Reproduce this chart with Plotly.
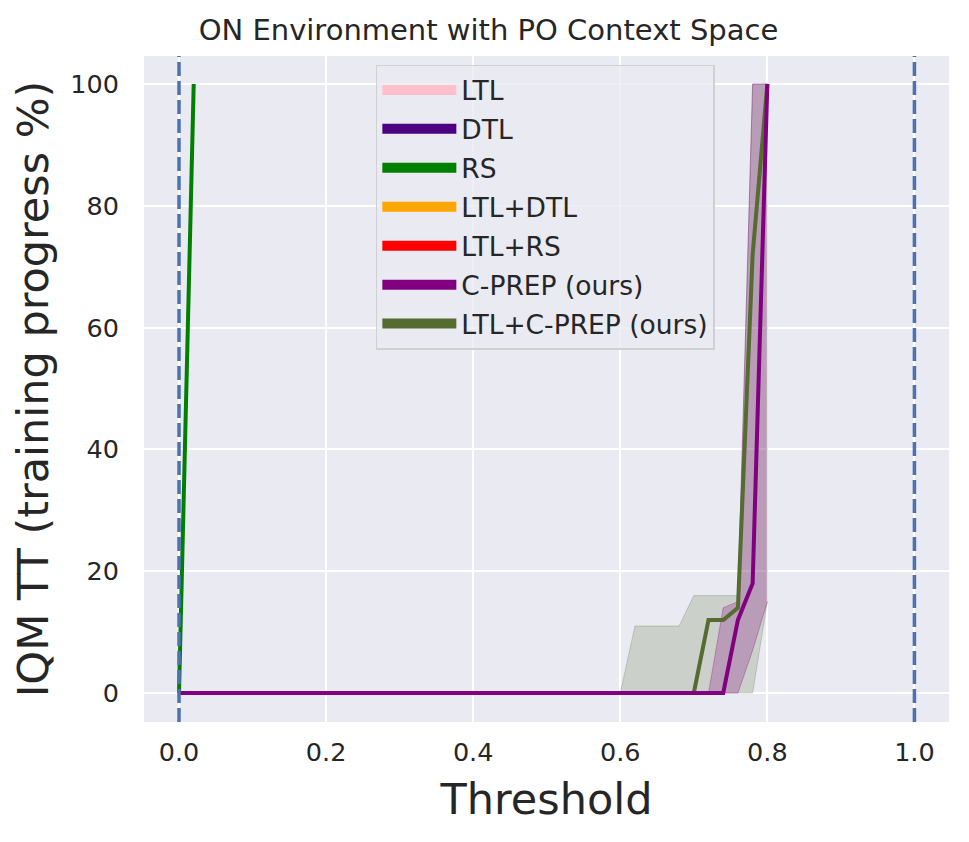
import plotly.graph_objects as go

# thresholds evaluated (x axis)
thresholds = [0.0, 0.02, 0.04, 0.06, 0.08, 0.10, 0.12, 0.14, 0.16, 0.18,
              0.20, 0.22, 0.24, 0.26, 0.28, 0.30, 0.32, 0.34, 0.36, 0.38,
              0.40, 0.42, 0.44, 0.46, 0.48, 0.50, 0.52, 0.54, 0.56, 0.58,
              0.60, 0.62, 0.64, 0.66, 0.68, 0.70, 0.72, 0.74, 0.76, 0.78,
              0.80]

zeros_to_058 = [0] * 30  # 0.00 .. 0.58

# RS reaches 100% almost immediately
rs_x = [0.0, 0.02]
rs_iqm = [0, 100]

# C-PREP (ours)
cprep_iqm = zeros_to_058 + [0, 0, 0, 0, 0, 0, 0, 0, 12, 18, 100]
cprep_low = zeros_to_058 + [0, 0, 0, 0, 0, 0, 0, 0, 0, 7, 15]
cprep_high = zeros_to_058 + [0, 0, 0, 0, 0, 0, 0, 14, 15, 100, 100]

# LTL+C-PREP (ours)
ltlcprep_iqm = zeros_to_058 + [0, 0, 0, 0, 0, 0, 12, 12, 14, 72, 100]
ltlcprep_low = zeros_to_058 + [0, 0, 0, 0, 0, 0, 0, 0, 0, 0, 15]
ltlcprep_high = zeros_to_058 + [0, 11, 11, 11, 11, 16, 16, 16, 16, 100, 100]

methods = ["LTL", "DTL", "RS", "LTL+DTL", "LTL+RS", "C-PREP (ours)", "LTL+C-PREP (ours)"]
colors = ["#FFC0CB", "#4B0082", "#008000", "#FFA500", "#FF0000", "#800080", "#556B2F"]

boundaries = [0.0, 1.0]

fig = go.Figure()

def add_band(x, low, high, fill, edge):
    fig.add_trace(go.Scatter(x=x, y=low, mode="lines", line=dict(color=edge, width=1),
                             showlegend=False, hoverinfo="skip"))
    fig.add_trace(go.Scatter(x=x, y=high, mode="lines", line=dict(color=edge, width=1),
                             fill="tonexty", fillcolor=fill, showlegend=False, hoverinfo="skip"))

add_band(thresholds, ltlcprep_low, ltlcprep_high, "rgba(85,107,47,0.2)", "rgba(85,107,47,0.25)")
add_band(thresholds, cprep_low, cprep_high, "rgba(128,0,128,0.25)", "rgba(128,0,128,0.3)")

fig.add_trace(go.Scatter(x=rs_x, y=rs_iqm, mode="lines", line=dict(color=colors[2], width=4),
                         showlegend=False))
fig.add_trace(go.Scatter(x=thresholds, y=ltlcprep_iqm, mode="lines", line=dict(color=colors[6], width=4),
                         showlegend=False))
fig.add_trace(go.Scatter(x=thresholds, y=cprep_iqm, mode="lines", line=dict(color=colors[5], width=4),
                         showlegend=False))

# legend entries (thick lines like the matplotlib handles)
for i, (name, c) in enumerate(zip(methods, colors)):
    fig.add_trace(go.Scatter(x=[None], y=[None], mode="lines", name=name,
                             line=dict(color=c, width=12), legendgroup=str(i)))

for b in boundaries:
    fig.add_vline(x=b, line=dict(color="#4C72B0", width=3.5, dash="14px,5px"), layer="above")

# the page body adds an 8px offset at top/left, so the figure is 8px smaller
fig.update_layout(
    width=961, height=834,
    margin=dict(l=136, r=20, t=48, b=120),
    paper_bgcolor="white",
    plot_bgcolor="#EAEAF2",
    font=dict(family="DejaVu Sans", color="#262626", size=25.5),
    title=dict(text="ON Environment with PO Context Space", x=0.5, xanchor="center",
               y=0.974, yanchor="middle", font=dict(size=29, color="#262626")),
    legend=dict(x=0.288, y=0.987, xanchor="left", yanchor="top",
                bgcolor="rgba(234,234,242,0.8)", bordercolor="#D0D0D0", borderwidth=1.5,
                font=dict(size=26.5), tracegroupgap=1.5, itemwidth=74),
    showlegend=True,
)
fig.update_xaxes(range=[-0.0476, 1.047], tickvals=[0, 0.2, 0.4, 0.6, 0.8, 1.0],
                 ticktext=["0.0", "0.2", "0.4", "0.6", "0.8", "1.0"],
                 showgrid=True, gridcolor="white", gridwidth=2, zeroline=False,
                 showline=False, ticklabelstandoff=12,
                 title=dict(text="Threshold", font=dict(size=43), standoff=18))
fig.update_yaxes(range=[-4.76, 104.6], tickvals=[0, 20, 40, 60, 80, 100],
                 showgrid=True, gridcolor="white", gridwidth=2, zeroline=False,
                 showline=False, ticklabelstandoff=24,
                 title=dict(text="IQM TT (training progress %)", font=dict(size=43), standoff=8))

fig.write_html("out.html")
